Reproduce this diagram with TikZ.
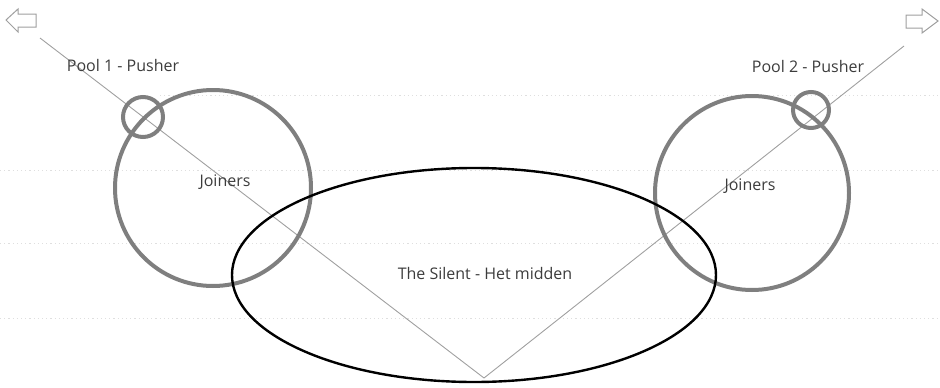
\documentclass[tikz,border=0pt]{standalone}
\usepackage{fontspec}
\setmainfont{Open Sans}
\usetikzlibrary{shapes.geometric}
\definecolor{ringgray}{HTML}{7F7F7F}
\definecolor{txtgray}{HTML}{3C3C3C}
\definecolor{linegray}{HTML}{A0A0A0}
\begin{document}
\begin{tikzpicture}[x=1pt,y=-1pt,
  ring/.style={circle,draw=ringgray,line width=4pt,inner sep=0pt},
  blob/.style={ellipse,draw=black,line width=2.4pt,inner sep=0pt},
  lbl/.style={text=txtgray,font=\fontsize{16}{18}\selectfont,inner sep=0pt},
  guide/.style={draw=linegray,line width=0.9pt},
  grid/.style={draw=gray!25,dash pattern=on 1.2pt off 3pt,line width=0.8pt},
  blockarrow/.style={draw=gray!75,line width=1pt,line join=miter,fill=white}]
\useasboundingbox (0,0) rectangle (940,388);
% faint background dotted lines
\draw[grid] (160,95) -- (940,95);
\draw[grid] (0,170) -- (940,170);
\draw[grid] (0,243) -- (940,243);
\draw[grid] (0,318) -- (940,318);
% block arrows
\draw[blockarrow] (6,20) -- (18,9) -- (18,14) -- (36,14) -- (36,27) -- (18,27) -- (18,32) -- cycle;
\draw[blockarrow] (938,21) -- (922,9) -- (922,15) -- (906,15) -- (906,28) -- (922,28) -- (922,33) -- cycle;
% guide lines
\coordinate (lstart) at (40,38);
\coordinate (vertex) at (484,378);
\coordinate (rend) at (904,46);
\draw[guide] (lstart) -- (vertex) -- (rend);
% circles
\node[ring,minimum size=196pt] (bigL) at (213,188) {};
\node[ring,minimum size=40pt] (smallL) at (143,117) {};
\node[ring,minimum size=194pt] (bigR) at (752,193) {};
\node[ring,minimum size=36pt] (smallR) at (811,110) {};
\node[blob,minimum width=484pt,minimum height=214pt] (mid) at (474,275) {};
% labels
\node[lbl] (p1) at (123,65) {Pool 1 - Pusher};
\node[lbl] (p2) at (808,66) {Pool 2 - Pusher};
\node[lbl] (jL) at (225,182) {Joiners};
\node[lbl] (jR) at (750,186) {Joiners};
\node[lbl] (tm) at (485,273) {The Silent - Het midden};
\end{tikzpicture}
\end{document}
